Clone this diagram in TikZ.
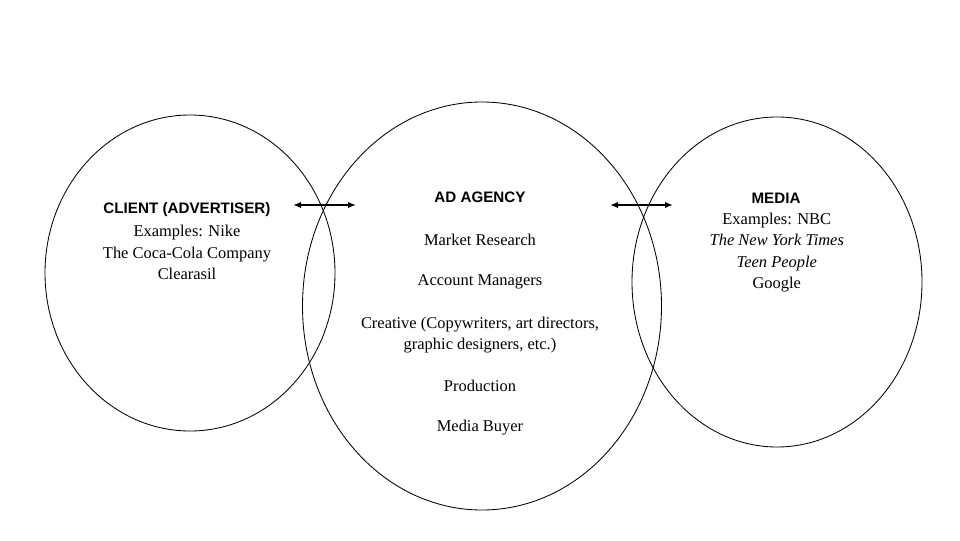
\documentclass[tikz,border=0pt]{standalone}
\usepackage{fontspec}
\setmainfont{Liberation Serif}
\newfontfamily\headfont{Liberation Sans}
\usetikzlibrary{shapes.geometric,arrows.meta}

\begin{document}
\begin{tikzpicture}[
    ring/.style={draw, ellipse, line width=0.6pt, inner sep=0pt},
    head/.style={font=\headfont\bfseries\fontsize{10.8}{13}\selectfont, inner sep=0pt},
    item/.style={font=\fontsize{11.7}{15.3}\selectfont, align=center, inner sep=0pt},
    link/.style={line width=1.4pt, {Latex[length=2mm,width=1.6mm]}-{Latex[length=2mm,width=1.6mm]}}
  ]
  \useasboundingbox (0,0) rectangle (24,13.5);
  % the three circles
  \node[ring, minimum width=7.25cm, minimum height=7.9cm] (client) at (4.75,6.675) {};
  \node[ring, minimum width=8.975cm, minimum height=10.2cm] (agency) at (12.05,5.85) {};
  \node[ring, minimum width=7.25cm, minimum height=8.25cm] (media) at (19.425,6.45) {};
  % client
  \node[head] (clienthead) at (4.675,8.25) {CLIENT (ADVERTISER)};
  \node[item] (clientlist) at (4.675,7.18) {Examples: Nike\\The Coca-Cola Company\\Clearasil};
  % agency
  \node[head] (agencyhead) at (12.0,8.575) {AD AGENCY};
  \node[item] (research) at (12.0,7.5) {Market Research};
  \node[item] (accounts) at (12.0,6.45) {Account Managers};
  \node[item] (creative) at (12.0,5.125) {Creative (Copywriters, art directors,\\graphic designers, etc.)};
  \node[item] (production) at (12.0,3.85) {Production};
  \node[item] (buyer) at (12.0,2.8) {Media Buyer};
  % media
  \node[head] (mediahead) at (19.4,8.55) {MEDIA};
  \node[item] (medialist) at (19.42,7.19) {Examples: NBC\\\textit{The New York Times}\\\textit{Teen People}\\Google};
  % arrows
  \coordinate (la) at (7.325,8.375);
  \coordinate (lb) at (8.9,8.375);
  \coordinate (ra) at (15.25,8.375);
  \coordinate (rb) at (16.825,8.375);
  \draw[link] (la) -- (lb);
  \draw[link] (ra) -- (rb);
\end{tikzpicture}
\end{document}
